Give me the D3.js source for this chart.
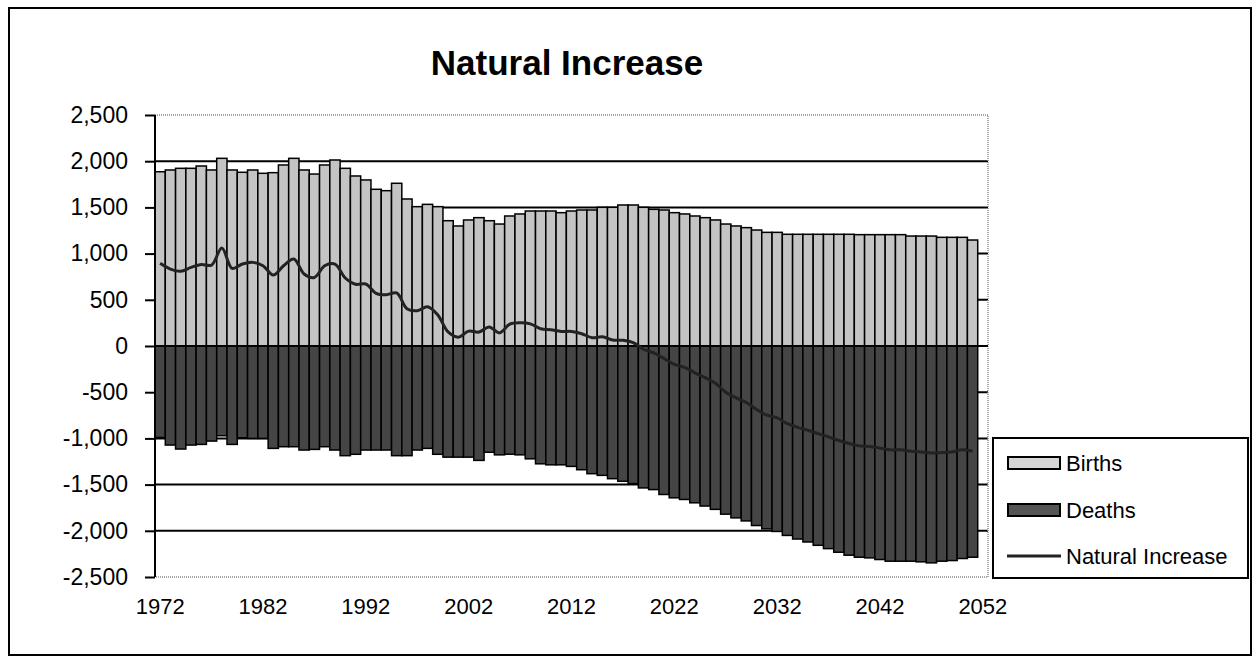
<!DOCTYPE html>
<head>
<meta charset="utf-8">
<title>Natural Increase</title>
<style>
body {
  margin: 0;
  background: #fff;
}
text {
  font-family: "Liberation Sans", Arial, sans-serif;
  fill: #000;
}
</style>
<script src="https://cdn.jsdelivr.net/npm/d3@7/dist/d3.min.js"></script>
</head>
<body>
<script>
"use strict";

// categories run 1972..2052, the last year has no bars
var firstYear = 1972, lastYear = 2052;
var tickLabels = ["1972", "1982", "1992", "2002", "2012", "2022", "2032", "2042", "2052"];
var yTicks = [-2500, -2000, -1500, -1000, -500, 0, 500, 1000, 1500, 2000, 2500];

// values, 1972..2051
var births = [
  1886, 1905, 1923, 1923, 1948, 1905, 2031, 1905, 1880, 1905,
  1869, 1876, 1959, 2031, 1905, 1861, 1959, 2013, 1923, 1840,
  1797, 1696, 1681, 1761, 1591, 1508, 1533, 1508, 1356, 1299,
  1364, 1389, 1356, 1320, 1407, 1429, 1461, 1461, 1461, 1443,
  1461, 1472, 1472, 1501, 1501, 1526, 1526, 1501, 1479, 1472,
  1443, 1429, 1407, 1389, 1364, 1320, 1299, 1281, 1255, 1230,
  1230, 1209, 1209, 1209, 1209, 1209, 1209, 1209, 1205, 1205,
  1205, 1205, 1205, 1190, 1190, 1190, 1176, 1176, 1176, 1147
];
var deaths = [
  -990, -1072, -1115, -1072, -1065, -1029, -971, -1065, -993, -1000,
  -1000, -1108, -1090, -1090, -1126, -1119, -1090, -1126, -1187, -1172,
  -1126, -1126, -1126, -1187, -1187, -1126, -1108, -1172, -1203, -1203,
  -1203, -1238, -1150, -1178, -1171, -1178, -1221, -1275, -1286, -1286,
  -1303, -1339, -1382, -1400, -1436, -1464, -1489, -1536, -1554, -1607,
  -1643, -1661, -1697, -1732, -1768, -1820, -1860, -1893, -1943, -1979,
  -2007, -2050, -2089, -2121, -2157, -2193, -2232, -2264, -2286, -2293,
  -2311, -2329, -2329, -2329, -2336, -2347, -2329, -2322, -2300, -2286
];
var naturalIncrease = [
  896, 833, 808, 851, 883, 876, 1060, 840, 887, 905,
  869, 768, 869, 941, 779, 742, 869, 887, 736, 668,
  671, 570, 555, 574, 404, 382, 425, 336, 153, 96,
  161, 151, 206, 142, 236, 251, 240, 186, 175, 157,
  158, 133, 90, 101, 65, 62, 37, -35, -75, -135,
  -200, -232, -290, -343, -404, -500, -561, -612, -688, -749,
  -777, -841, -880, -912, -948, -984, -1023, -1055, -1081, -1088,
  -1106, -1124, -1124, -1139, -1146, -1157, -1153, -1146, -1124, -1139
];

var W = 1254, H = 662;
var plot = {left: 155, right: 988, top: 115, bottom: 577};

var years = d3.range(firstYear, lastYear + 1).map(String);

// plain hyphen for negatives, like the original
var fmt = d3.formatLocale({decimal: ".", thousands: ",", grouping: [3],
                           currency: ["$", ""], minus: "-"}).format(",");

var svg = d3.select("body").append("svg")
    .attr("width", W)
    .attr("height", H);

// outer chart frame
svg.append("rect")
    .attr("x", 9).attr("y", 8)
    .attr("width", 1242).attr("height", 647)
    .attr("fill", "#fff")
    .attr("stroke", "#000")
    .attr("stroke-width", 2);

var x = d3.scaleBand()
    .domain(years)
    .range([plot.left, plot.right])
    .padding(0);

var y = d3.scaleLinear()
    .domain([-2500, 2500])
    .range([plot.bottom, plot.top]);

// title
svg.append("text")
    .attr("x", 567)
    .attr("y", 75)
    .attr("text-anchor", "middle")
    .style("font-size", "35px")
    .style("font-weight", "bold")
    .text("Natural Increase");

// gridlines
svg.append("g")
    .attr("class", "grid")
  .selectAll("line")
    .data(yTicks.filter(function(d) { return d > -2500 && d < 2500; }))
  .enter().append("line")
    .attr("x1", plot.left).attr("x2", plot.right)
    .attr("y1", function(d) { return y(d); })
    .attr("y2", function(d) { return y(d); })
    .attr("stroke", "#000")
    .attr("stroke-width", 2);

// plot area border (grey, dotted)
svg.append("path")
    .attr("d", "M" + plot.left + "," + plot.top + "H" + plot.right +
               "V" + plot.bottom + "H" + plot.left)
    .attr("fill", "none")
    .attr("stroke", "#8a8a8a")
    .attr("stroke-width", 1.5)
    .attr("stroke-dasharray", "1,1");

var rows = births.map(function(b, i) {
  return {year: years[i], births: b, deaths: deaths[i], ni: naturalIncrease[i]};
});

// births above zero
svg.append("g")
  .selectAll("rect")
    .data(rows)
  .enter().append("rect")
    .attr("x", function(d) { return x(d.year); })
    .attr("width", x.bandwidth())
    .attr("y", function(d) { return y(d.births); })
    .attr("height", function(d) { return y(0) - y(d.births); })
    .attr("fill", "#c4c4c4")
    .attr("stroke", "#000")
    .attr("stroke-width", 1.5);

// deaths below zero
svg.append("g")
  .selectAll("rect")
    .data(rows)
  .enter().append("rect")
    .attr("x", function(d) { return x(d.year); })
    .attr("width", x.bandwidth())
    .attr("y", y(0))
    .attr("height", function(d) { return y(d.deaths) - y(0); })
    .attr("fill", "#454545")
    .attr("stroke", "#000")
    .attr("stroke-width", 1.5);

// zero line (category axis)
svg.append("line")
    .attr("x1", plot.left).attr("x2", plot.right)
    .attr("y1", y(0)).attr("y2", y(0))
    .attr("stroke", "#000")
    .attr("stroke-width", 2);

// natural increase line
var line = d3.line()
    .curve(d3.curveCatmullRom.alpha(0.5))
    .x(function(d) { return x(d.year) + x.bandwidth() / 2; })
    .y(function(d) { return y(d.ni); });

svg.append("path")
    .datum(rows)
    .attr("d", line)
    .attr("fill", "none")
    .attr("stroke", "#222")
    .attr("stroke-width", 3);

// y axis
var yAxis = svg.append("g")
    .attr("transform", "translate(" + plot.left + ",0)")
    .call(d3.axisLeft(y)
      .tickValues(yTicks)
      .tickSize(10)
      .tickPadding(17)
      .tickFormat(fmt));
yAxis.select(".domain")
    .attr("stroke", "#000")
    .attr("stroke-width", 2)
    .attr("d", "M0," + plot.top + "V" + plot.bottom);
yAxis.selectAll(".tick line")
    .attr("stroke", "#000")
    .attr("stroke-width", 2);
yAxis.selectAll(".tick text")
    .attr("font-family", null)
    .attr("fill", "#000")
    .style("font-size", "23px");

// x labels, placed at the bottom of the plot
var xAxis = svg.append("g")
    .attr("transform", "translate(0," + plot.bottom + ")")
    .call(d3.axisBottom(x)
      .tickValues(tickLabels)
      .tickSize(0)
      .tickPadding(21));
xAxis.select(".domain").remove();
xAxis.selectAll(".tick text")
    .attr("font-family", null)
    .attr("fill", "#000")
    .style("font-size", "22px");

// legend
var legend = svg.append("g");
legend.append("rect")
    .attr("x", 993).attr("y", 438)
    .attr("width", 255).attr("height", 140)
    .attr("fill", "#fff")
    .attr("stroke", "#000")
    .attr("stroke-width", 2);

var legendItems = [
  {name: "Births", type: "rect", fill: "#d6d6d6", y: 463},
  {name: "Deaths", type: "rect", fill: "#555", y: 510},
  {name: "Natural Increase", type: "line", y: 556}
];

legendItems.forEach(function(item) {
  if (item.type === "rect") {
    legend.append("rect")
        .attr("x", 1008).attr("y", item.y - 6)
        .attr("width", 52).attr("height", 12)
        .attr("fill", item.fill)
        .attr("stroke", "#000")
        .attr("stroke-width", 2);
  } else {
    legend.append("line")
        .attr("x1", 1007).attr("x2", 1061)
        .attr("y1", item.y).attr("y2", item.y)
        .attr("stroke", "#222")
        .attr("stroke-width", 3);
  }
  legend.append("text")
      .attr("x", 1066)
      .attr("y", item.y + 8)
      .style("font-size", "22px")
      .text(item.name);
});
</script>
</body>
